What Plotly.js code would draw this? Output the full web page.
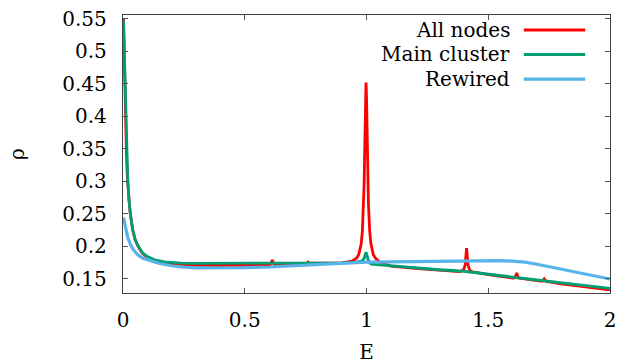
<!DOCTYPE html>
<html>
<head>
<meta charset="utf-8">
<script src="https://cdn.plot.ly/plotly-3.0.1.min.js"></script>
<style>html,body{margin:0;padding:0;background:#fff;}#chart{width:631px;height:364px;}</style>
</head>
<body>
<div id="chart"></div>
<script>
// Data
const seriesNames = ["All nodes", "Main cluster", "Rewired"];

const allE = [0.002,0.005,0.008,0.011,0.014,0.017,0.02,0.025,0.03,0.04,0.05,0.063,0.08,0.1,0.13,0.17,0.24,0.3,0.4,0.5,0.58,0.6,0.607,0.613,0.619,0.626,0.7,0.74,0.755,0.76,0.765,0.8,0.9,0.94,0.958,0.968,0.978,0.983,0.988,0.99,0.992,0.994,0.996,0.998,1.0,1.002,1.004,1.006,1.008,1.013,1.018,1.028,1.038,1.058,1.1,1.2,1.3,1.38,1.39,1.4,1.405,1.408,1.411,1.414,1.417,1.422,1.43,1.5,1.55,1.6,1.61,1.614,1.617,1.62,1.624,1.7,1.722,1.73,1.738,1.8,1.9,2.0];
const allRho = [0.551,0.49,0.435,0.388,0.345,0.315,0.295,0.27,0.25,0.225,0.21,0.199,0.189,0.183,0.178,0.1745,0.172,0.1705,0.1703,0.1703,0.1705,0.171,0.173,0.179,0.173,0.171,0.172,0.1735,0.174,0.1755,0.174,0.174,0.1745,0.177,0.181,0.187,0.203,0.223,0.264,0.294,0.333,0.383,0.430,0.452,0.431,0.384,0.334,0.295,0.265,0.224,0.204,0.187,0.181,0.175,0.1695,0.166,0.163,0.161,0.1615,0.165,0.171,0.184,0.197,0.184,0.171,0.165,0.161,0.1562,0.1535,0.151,0.1515,0.155,0.1588,0.155,0.1512,0.147,0.1462,0.150,0.1458,0.142,0.1375,0.133];

const mainE = [0.002,0.005,0.008,0.011,0.014,0.017,0.02,0.025,0.03,0.04,0.05,0.063,0.08,0.1,0.13,0.17,0.24,0.3,0.4,0.5,0.6,0.7,0.8,0.9,0.95,0.98,0.99,0.995,0.998,1.001,1.005,1.01,1.02,1.05,1.1,1.2,1.3,1.4,1.42,1.5,1.55,1.6,1.7,1.8,1.9,2.0];
const mainRho = [0.548,0.50,0.44,0.39,0.345,0.315,0.295,0.27,0.25,0.225,0.21,0.2,0.19,0.184,0.179,0.176,0.174,0.1735,0.1735,0.1735,0.1735,0.1738,0.174,0.1745,0.175,0.177,0.181,0.186,0.191,0.187,0.179,0.175,0.1725,0.1715,0.1695,0.1665,0.1638,0.1615,0.1605,0.157,0.1546,0.1525,0.148,0.1433,0.1392,0.135];

const rewE = [0.002,0.005,0.01,0.02,0.03,0.042,0.06,0.08,0.104,0.15,0.2,0.24,0.3,0.42,0.5,0.6,0.7,0.8,0.9,0.97,1.0,1.1,1.2,1.3,1.4,1.5,1.55,1.6,1.65,1.7,1.75,1.8,1.85,1.9,1.95,2.0];
const rewRho = [0.244,0.238,0.228,0.213,0.203,0.195,0.187,0.182,0.179,0.1735,0.170,0.168,0.1668,0.1665,0.167,0.168,0.170,0.172,0.1742,0.175,0.1755,0.176,0.1766,0.1772,0.1778,0.178,0.1778,0.177,0.1755,0.1722,0.1685,0.1645,0.1605,0.157,0.153,0.1495];

const xTicks = [0, 0.5, 1, 1.5, 2];
const xTickText = ["0", "0.5", "1", "1.5", "2"];
const yTicks = [0.15, 0.2, 0.25, 0.3, 0.35, 0.4, 0.45, 0.5, 0.55];
const yTickText = ["0.15", "0.2", "0.25", "0.3", "0.35", "0.4", "0.45", "0.5", "0.55"];

const colors = ["#ff0000", "#009e73", "#56b4e9"];
const widths = [2.8, 2.8, 3.2];
const xs = [allE, mainE, rewE];
const ys = [allRho, mainRho, rewRho];

const font = "DejaVu Serif";
const fsize = 20;

const traces = xs.map((x, i) => ({
  x: x, y: ys[i], type: "scatter", mode: "lines", name: seriesNames[i],
  line: {color: colors[i], width: widths[i]}, showlegend: false
}));

// manual legend (text left of the line sample, as in the reference)
const legY = [0.946, 0.858, 0.769];
const annotations = seriesNames.map((n, i) => ({
  xref: "paper", yref: "paper", x: 0.799, y: legY[i], xanchor: "right", yanchor: "middle",
  text: n, showarrow: false, font: {family: font, size: fsize, color: "#000"}
}));
const shapes = seriesNames.map((n, i) => ({
  type: "line", xref: "paper", yref: "paper", x0: 0.823, x1: 0.949, y0: legY[i], y1: legY[i],
  line: {color: colors[i], width: widths[i]}
}));

const axisCommon = {
  showgrid: false, zeroline: false, showline: true, linecolor: "#444", linewidth: 1.2,
  mirror: "ticks", ticks: "inside", ticklen: 5, tickcolor: "#555", tickwidth: 1,
  tickfont: {family: font, size: fsize, color: "#000"}
};

const layout = {
  width: 631, height: 364,
  margin: {l: 123, r: 21, t: 15, b: 71},
  paper_bgcolor: "#fff", plot_bgcolor: "#fff",
  font: {family: font, color: "#000"},
  xaxis: Object.assign({}, axisCommon, {
    range: [0, 2], tickvals: xTicks, ticktext: xTickText, ticklabelstandoff: 9,
    title: {text: "E", font: {family: font, size: fsize, color: "#000"}, standoff: 14}
  }),
  yaxis: Object.assign({}, axisCommon, {
    range: [0.128, 0.556], tickvals: yTicks, ticktext: yTickText, ticklabelstandoff: 11,
    title: {text: "ρ", font: {family: font, size: fsize, color: "#000"}, standoff: 32}
  }),
  annotations: annotations,
  shapes: shapes
};

Plotly.newPlot("chart", traces, layout, {displayModeBar: false, staticPlot: true});
</script>
</body>
</html>
